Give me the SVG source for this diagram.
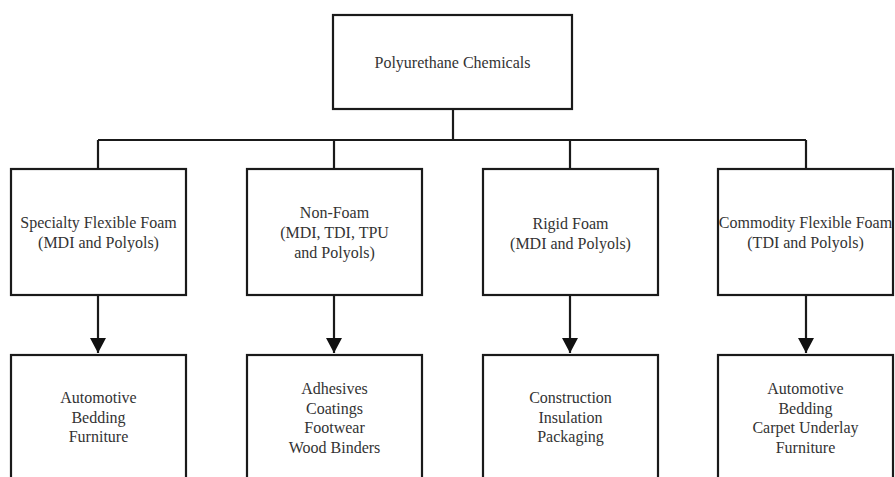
<svg xmlns="http://www.w3.org/2000/svg" width="895" height="477" viewBox="0 0 895 477">
<style>
.box{fill:#fff;stroke:#1a1a1a;stroke-width:2.2}
.t{font-family:"Liberation Serif","Times New Roman",serif;font-size:16px;fill:#333;text-anchor:middle}
.ln{fill:none;stroke:#1a1a1a;stroke-width:2.2}
</style>
<defs>
<marker id="ah" markerUnits="userSpaceOnUse" markerWidth="18" markerHeight="16" refX="15" refY="8" orient="auto">
<path d="M0,0 L15,8 L0,16 Z" fill="#111"/>
</marker>
</defs>
<rect width="895" height="477" fill="#fff"/>
<g id="connectors">
<path class="ln" d="M453,109 V140"/>
<path class="ln" d="M98,140 H806"/>
<path class="ln" d="M98,140 V169"/>
<path class="ln" d="M334,140 V169"/>
<path class="ln" d="M570,140 V169"/>
<path class="ln" d="M806,140 V169"/>
<path class="ln" d="M98,295 V353" marker-end="url(#ah)"/>
<path class="ln" d="M334,295 V353" marker-end="url(#ah)"/>
<path class="ln" d="M570,295 V353" marker-end="url(#ah)"/>
<path class="ln" d="M806,295 V353" marker-end="url(#ah)"/>
</g>
<g id="root">
<rect class="box" x="333" y="15" width="239" height="94"/>
<text class="t" x="452.5" y="67.5">Polyurethane Chemicals</text>
</g>
<g id="specialty">
<rect class="box" x="11" y="169" width="175" height="126"/>
<text class="t" x="98.5" y="228">Specialty Flexible Foam</text>
<text class="t" x="98.5" y="248">(MDI and Polyols)</text>
</g>
<g id="nonfoam">
<rect class="box" x="247" y="169" width="175" height="126"/>
<text class="t" x="334.5" y="218">Non-Foam</text>
<text class="t" x="334.5" y="238">(MDI, TDI, TPU</text>
<text class="t" x="334.5" y="258">and Polyols)</text>
</g>
<g id="rigid">
<rect class="box" x="483" y="169" width="175" height="126"/>
<text class="t" x="570.5" y="229">Rigid Foam</text>
<text class="t" x="570.5" y="249">(MDI and Polyols)</text>
</g>
<g id="commodity">
<rect class="box" x="718" y="169" width="175" height="126"/>
<text class="t" x="805.5" y="228">Commodity Flexible Foam</text>
<text class="t" x="805.5" y="248">(TDI and Polyols)</text>
</g>
<g id="specialty-uses">
<rect class="box" x="11" y="355" width="175" height="126"/>
<text class="t" x="98.5" y="403">Automotive</text>
<text class="t" x="98.5" y="423">Bedding</text>
<text class="t" x="98.5" y="442">Furniture</text>
</g>
<g id="nonfoam-uses">
<rect class="box" x="247" y="355" width="175" height="126"/>
<text class="t" x="334.5" y="394">Adhesives</text>
<text class="t" x="334.5" y="413.5">Coatings</text>
<text class="t" x="334.5" y="433">Footwear</text>
<text class="t" x="334.5" y="452.5">Wood Binders</text>
</g>
<g id="rigid-uses">
<rect class="box" x="483" y="355" width="175" height="126"/>
<text class="t" x="570.5" y="403">Construction</text>
<text class="t" x="570.5" y="423">Insulation</text>
<text class="t" x="570.5" y="442">Packaging</text>
</g>
<g id="commodity-uses">
<rect class="box" x="718" y="355" width="175" height="126"/>
<text class="t" x="805.5" y="394">Automotive</text>
<text class="t" x="805.5" y="413.5">Bedding</text>
<text class="t" x="805.5" y="433">Carpet Underlay</text>
<text class="t" x="805.5" y="452.5">Furniture</text>
</g>
</svg>
